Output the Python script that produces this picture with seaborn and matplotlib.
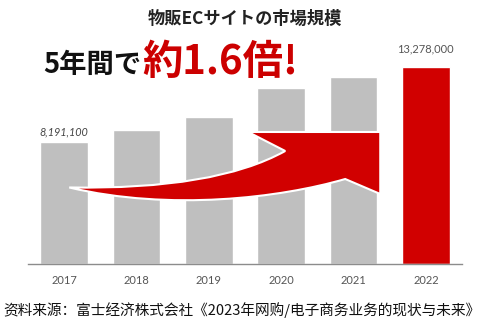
import matplotlib
matplotlib.use("Agg")
import matplotlib.pyplot as plt
from matplotlib.path import Path
from matplotlib.patches import PathPatch
import seaborn as sns
import pandas as pd

# Market size of product-sales EC sites (unit as published)
years = ["2017", "2018", "2019", "2020", "2021", "2022"]
market_size = [8191100, 9020000, 9870000, 11860000, 12600000, 13278000]
bar_colors = ["#bfbfbf", "#bfbfbf", "#bfbfbf", "#bfbfbf", "#bfbfbf", "#d10000"]

title_text = "物販ECサイトの市場規模"
lead_text = "5年間で"
growth_text = "約1.6倍!"
source_text = "资料来源：富士经济株式会社《2023年网购/电子商务业务的现状与未来》"

sns.set_theme(style="white")
plt.rcParams["font.family"] = ["Noto Sans CJK JP", "DejaVu Sans"]

df = pd.DataFrame({"year": years, "size": market_size})

fig = plt.figure(figsize=(4.85, 3.32), dpi=100)
fig.patch.set_facecolor("white")
ax = fig.add_axes([0.0577, 0.2048, 0.8949, 0.649])

sns.barplot(data=df, x="year", y="size", hue="year", palette=bar_colors,
            width=0.66, saturation=1, legend=False, ax=ax, zorder=2)

ax.set_xlim(-0.5, 5.5)
ax.set_ylim(0, 14.5e6)
ax.set_xlabel("")
ax.set_ylabel("")
ax.set_yticks([])
for side in ["top", "right", "left"]:
    ax.spines[side].set_visible(False)
ax.spines["bottom"].set_color("#8c8c8c")
ax.spines["bottom"].set_linewidth(1.0)
ax.tick_params(axis="x", length=0, pad=8, labelsize=8, labelcolor="#555555")
for lbl in ax.get_xticklabels():
    lbl.set_fontfamily(["Lato", "DejaVu Sans"])

# value labels on the first and last bars
ax.text(0, market_size[0] + 0.35e6, f"{market_size[0]:,}", ha="center", va="bottom",
        fontsize=7.8, color="#444444", style="italic", family=["Lato", "DejaVu Sans"])
ax.text(5, market_size[5] + 0.8e6, f"{market_size[5]:,}", ha="center", va="bottom",
        fontsize=8, color="#555555", family=["Lato", "DejaVu Sans"])

# curved growth arrow sweeping up toward the last bar
verts = [
    (0.07, 5.15e6),
    (2.086, 4.98e6), (3.056, 7.605e6),
    (2.544, 8.884e6),
    (4.370, 8.884e6),
    (4.370, 4.711e6),
    (3.885, 5.72e6),
    (2.985, 4.45e6), (1.463, 3.55e6), (0.07, 5.15e6),
    (0.07, 5.15e6),
]
codes = [Path.MOVETO,
         Path.CURVE3, Path.CURVE3,
         Path.LINETO, Path.LINETO, Path.LINETO, Path.LINETO,
         Path.CURVE4, Path.CURVE4, Path.CURVE4,
         Path.CLOSEPOLY]
ax.add_patch(PathPatch(Path(verts, codes), facecolor="#d10000", edgecolor="white",
                       linewidth=1.5, zorder=3))

# headings
fig.text(245 / 485, 1 - 18.7 / 332, title_text, ha="center", va="center",
         fontsize=12.4, fontweight="bold", color="#222222")
fig.text(43 / 485, 1 - 65 / 332, lead_text, ha="left", va="center",
         fontsize=19.7, fontweight="bold", color="#111111")
fig.text(142 / 485, 1 - 62 / 332, growth_text, ha="left", va="center",
         fontsize=29, fontweight="bold", color="#cc0000")

fig.text(3 / 485, 1 - 310 / 332, source_text, ha="left", va="center",
         fontsize=10.55, color="#111111", family=["Noto Sans CJK SC", "DejaVu Sans"])

fig.savefig("out.png", dpi=100, facecolor="white")
